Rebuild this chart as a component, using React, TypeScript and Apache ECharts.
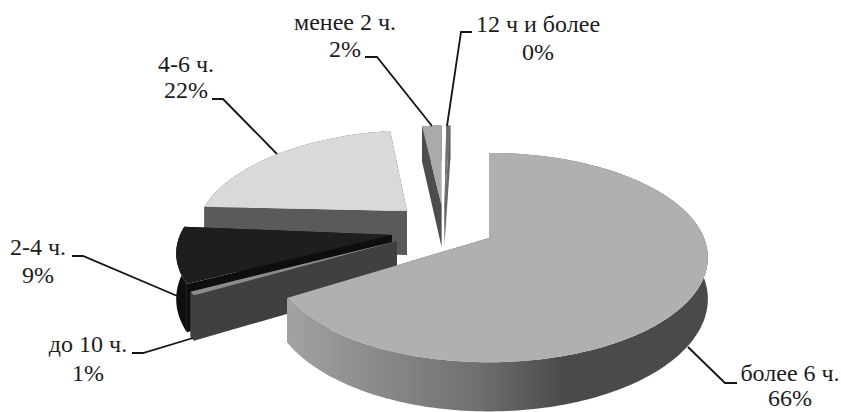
import React, { useEffect, useRef } from "react";
import * as echarts from "echarts";

// Data, in the pie's order (clockwise from 12 o'clock)
const categories = ["более 6 ч.", "до 10 ч.", "2-4 ч.", "4-6 ч.", "менее 2 ч.", "12 ч и более"];
const shares = [65.9, 0.6, 9.2, 21.9, 2.0, 0.4];

// Painter's order: back to front
const drawOrder = [3, 2, 1, 4, 5, 0];

// Projection of each exploded slice: apex, radii, lean, thickness, small turn (degrees)
const ax = [489, 397, 392, 407, 441.6, 444.5];
const ay = [238, 241, 235, 211, 205, 205];
const rx = [215, 217, 212, 205, 185, 195];
const ry = [101, 90, 95, 96, 94.4, 94.4];
const lean = [0, 0, 0, 11, 4.7, 7];
const depth = [40, 41, 44, 44, 42, 40];
const turn = [0.5, 0, 2.5, 0, 0, 0];
const K = 0.187;

const topColors = ["#b0b0b0", "#8c8c8c", "#1e1e1e", "#d9d9d9", "#aaaaaa", "#707070"];
const sideColors = ["#4a4a4a", "#404040", "#0e0e0e", "#5a5a5a", "#4d4d4d", "#666666"];

// Labels
const labelX = [790, 88, 38, 186, 345, 538];
const line1Y = [373, 344, 247, 64, 22, 24];
const line2Y = [398, 373, 275, 90, 49, 52];
const leaders = [
  [[737, 383], [725, 383], [688, 347]],
  [[132, 353], [143, 353], [193, 338]],
  [[72, 256], [83, 256], [182, 298]],
  [[212, 99], [223, 99], [277, 154]],
  [[365, 57], [377, 57], [432, 126]],
  [[472, 32], [461, 32], [447, 126]],
];

const FONT = '24px "Liberation Serif"';

function project(i: number, theta: number, radius: number, down: boolean) {
  const X = radius * Math.sin(theta);
  const Y = -radius * Math.cos(theta);
  const s = 1 / (1 - K * Y);
  return [
    ax[i] + rx[i] * X * s - lean[i] * Y * s,
    ay[i] + ry[i] * Y * s + (down ? depth[i] * s : 0),
  ];
}

function renderItem(_params: any, api: any) {
  const i = api.value(0);
  const share = api.value(1);
  const before = shares.slice(0, i).reduce((a, b) => a + b, 0);
  const offset = (turn[i] * Math.PI) / 180;
  const a0 = (before / 100) * Math.PI * 2 + (i === 0 ? 0 : offset);
  const a1 = ((before + share) / 100) * Math.PI * 2 + offset;
  const steps = Math.max(2, Math.ceil((a1 - a0) / 0.02));
  const angles: number[] = [];
  for (let k = 0; k <= steps; k++) angles.push(a0 + ((a1 - a0) * k) / steps);
  const topArc = angles.map((t) => project(i, t, 1, false));
  const lowArc = angles.map((t) => project(i, t, 1, true));
  const apexTop = project(i, 0, 0, false);
  const apexLow = project(i, 0, 0, true);
  const side = sideColors[i];
  const arcFill =
    i === 0
      ? new echarts.graphic.LinearGradient(0, 0, 1, 0, [
          { offset: 0, color: "#a2a2a2" },
          { offset: 0.45, color: "#707070" },
          { offset: 0.66, color: "#4a4a4a" },
          { offset: 1, color: "#4a4a4a" },
        ])
      : side;
  const poly = (points: number[][], fill: any) => ({
    type: "polygon",
    shape: { points },
    style: { fill, stroke: null },
  });
  const children: any[] = [
    poly([apexTop, topArc[0], lowArc[0], apexLow], side),
    poly([apexTop, topArc[steps], lowArc[steps], apexLow], side),
    poly([...topArc, ...lowArc.slice().reverse()], arcFill),
    poly([apexTop, ...topArc], topColors[i]),
    {
      type: "polyline",
      shape: { points: leaders[i] },
      style: { fill: null, stroke: "#141414", lineWidth: 1.8 },
    },
    {
      type: "text",
      style: {
        text: categories[i],
        x: labelX[i],
        y: line1Y[i],
        align: "center",
        verticalAlign: "middle",
        font: FONT,
        fill: "#1c1c1c",
      },
    },
    {
      type: "text",
      style: {
        text: `${Math.round(share)}%`,
        x: labelX[i],
        y: line2Y[i],
        align: "center",
        verticalAlign: "middle",
        font: FONT,
        fill: "#1c1c1c",
      },
    },
  ];
  return { type: "group", children };
}

export default function App() {
  const ref = useRef<HTMLDivElement>(null);
  useEffect(() => {
    const chart = echarts.init(ref.current!, null, { renderer: "svg" });
    chart.setOption({
      animation: false,
      backgroundColor: "#ffffff",
      series: [
        {
          type: "custom",
          coordinateSystem: "none",
          silent: true,
          clip: false,
          renderItem,
          data: drawOrder.map((i) => [i, shares[i]]),
        },
      ],
    });
    return () => chart.dispose();
  }, []);
  return (
    <div
      ref={ref}
      style={{ position: "fixed", left: 0, top: 0, width: 841, height: 412 }}
    />
  );
}
